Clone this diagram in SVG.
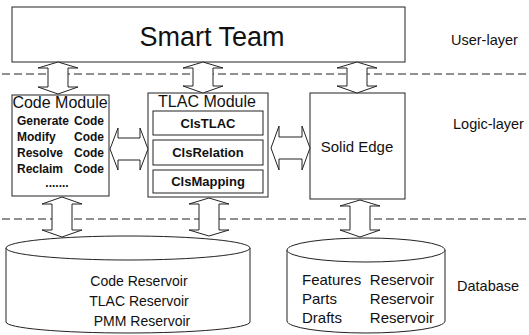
<svg xmlns="http://www.w3.org/2000/svg" width="529" height="335" viewBox="0 0 529 335">
  <defs>
    <style>
      .box { fill: #fff; stroke: #222; stroke-width: 1; }
      .arrow { fill: #fff; stroke: #222; stroke-width: 1; stroke-linejoin: miter; }
      .dash { stroke: #222; stroke-width: 1.2; stroke-dasharray: 8 4; fill: none; }
      text { font-family: "Liberation Sans", Arial, sans-serif; fill: #111; }
      .layer { font-size: 14.5px; }
      .mod { font-size: 16px; text-anchor: middle; }
      .item { font-size: 12px; font-weight: bold; }
      .cls { font-size: 13px; font-weight: bold; text-anchor: middle; }
      .res { font-size: 14px; }
      .res2 { font-size: 15px; }
    </style>
  </defs>
  <rect width="529" height="335" fill="#fff"/>

  <!-- layer separators -->
  <g id="separators">
    <line class="dash" x1="2" y1="74" x2="529" y2="74"/>
    <line class="dash" x1="2" y1="219" x2="529" y2="219"/>
  </g>

  <!-- layer captions -->
  <g id="layer-labels">
    <text class="layer" x="451" y="45">User-layer</text>
    <text class="layer" x="453" y="129">Logic-layer</text>
    <text class="layer" x="457" y="291">Database</text>
  </g>

  <g id="smart-team">
    <rect class="box" x="12" y="7" width="393" height="55"/>
    <text x="212" y="46" font-size="27" text-anchor="middle">Smart Team</text>
  </g>

  <g id="code-module">
    <rect class="box" x="12" y="95" width="97" height="101"/>
    <text class="mod" x="60" y="108">Code Module</text>
    <text class="item" x="17" y="125">Generate</text>
    <text class="item" x="104" y="125" text-anchor="end">Code</text>
    <text class="item" x="17" y="141">Modify</text>
    <text class="item" x="104" y="141" text-anchor="end">Code</text>
    <text class="item" x="17" y="157">Resolve</text>
    <text class="item" x="104" y="157" text-anchor="end">Code</text>
    <text class="item" x="17" y="173">Reclaim</text>
    <text class="item" x="104" y="173" text-anchor="end">Code</text>
    <text class="item" x="57" y="187" text-anchor="middle">.......</text>
  </g>

  <g id="tlac-module">
    <rect class="box" x="148" y="93" width="120" height="104"/>
    <text class="mod" x="207" y="107">TLAC Module</text>
    <rect class="box" x="153" y="111" width="110" height="24"/>
    <text class="cls" x="208" y="128">ClsTLAC</text>
    <rect class="box" x="153" y="140" width="110" height="25"/>
    <text class="cls" x="208" y="157">ClsRelation</text>
    <rect class="box" x="153" y="170" width="110" height="23"/>
    <text class="cls" x="208" y="186">ClsMapping</text>
  </g>

  <g id="solid-edge">
    <rect class="box" x="310" y="93" width="95" height="106"/>
    <text x="357" y="152" font-size="15" text-anchor="middle">Solid Edge</text>
  </g>

  <g id="code-reservoirs">
    <path class="box" d="M6,248 A122,12 0 0 1 250,248 L250,322 A122,11 0 0 1 6,322 Z"/>
    <path class="box" fill="none" d="M6,248 A122,12 0 0 0 250,248"/>
    <text class="res" x="139" y="286" text-anchor="middle">Code Reservoir</text>
    <text class="res" x="139" y="306" text-anchor="middle">TLAC Reservoir</text>
    <text class="res" x="142" y="326" text-anchor="middle">PMM Reservoir</text>
  </g>

  <g id="model-reservoirs">
    <path class="box" d="M287,250 A79,12 0 0 1 445,250 L445,321 A79,12 0 0 1 287,321 Z"/>
    <path class="box" fill="none" d="M287,250 A79,12 0 0 0 445,250"/>
    <text class="res2" x="302" y="285">Features</text>
    <text class="res2" x="434" y="285" text-anchor="end">Reservoir</text>
    <text class="res2" x="302" y="304">Parts</text>
    <text class="res2" x="434" y="304" text-anchor="end">Reservoir</text>
    <text class="res2" x="302" y="323">Drafts</text>
    <text class="res2" x="434" y="323" text-anchor="end">Reservoir</text>
  </g>

  <!-- hollow double-headed connectors -->
  <g id="connectors">
    <polygon class="arrow" points="58,62 78,68 68,68 68,87 78,87 58,94 38,87 48,87 48,68 38,68"/>
    <polygon class="arrow" points="203,62 223,68 213,68 213,86 223,86 203,93 183,86 193,86 193,68 183,68"/>
    <polygon class="arrow" points="357,62 377,68 367,68 367,86 377,86 357,93 337,86 347,86 347,68 337,68"/>

    <polygon class="arrow" points="110,149 118,128 118,138 140,138 140,128 148,149 140,170 140,160 118,160 118,170"/>
    <polygon class="arrow" points="271,148 279,126 279,137 302,137 302,126 310,148 302,170 302,159 279,159 279,170"/>

    <polygon class="arrow" points="62,197 82,204 72,204 72,230 82,230 62,237 42,230 52,230 52,204 42,204"/>
    <polygon class="arrow" points="209,198 229,204 219,204 219,230 229,230 209,236 189,230 199,230 199,204 189,204"/>
    <polygon class="arrow" points="360,200 380,206 370,206 370,230 380,230 360,237 340,230 350,230 350,206 340,206"/>
  </g>
</svg>
